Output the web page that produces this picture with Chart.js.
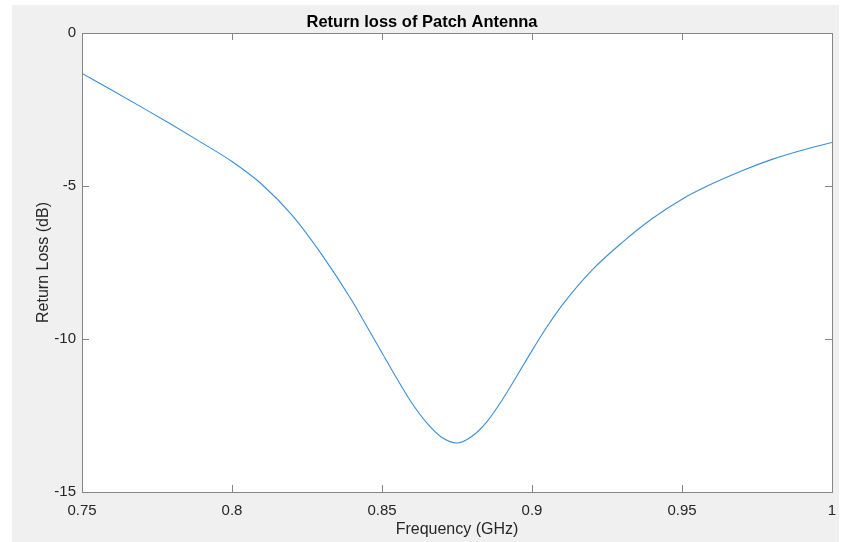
<!DOCTYPE html>
<html>
<head>
<meta charset="utf-8">
<title>Return loss of Patch Antenna</title>
<script src="https://cdn.jsdelivr.net/npm/chart.js@4.4.0/dist/chart.umd.min.js"></script>
<style>
    html, body { margin: 0; padding: 0; background: #ffffff; }
    #wrap { position: absolute; left: 12px; top: 5px; width: 827px; height: 537px; background: #f0f0f0; }
</style>
</head>
<body>
<div id="wrap"><canvas id="rlChart" width="827" height="537"></canvas></div>
<script>
// Données
const freq = [0.75, 0.76, 0.77, 0.78, 0.79, 0.80, 0.81, 0.82, 0.83, 0.84, 0.845, 0.85, 0.855, 0.86,
    0.865, 0.87, 0.875, 0.88, 0.885, 0.89, 0.895, 0.90, 0.905, 0.91, 0.92, 0.93, 0.94, 0.95,
    0.96, 0.97, 0.98, 0.99, 1.00];
const returnLoss = [-1.32, -1.87, -2.43, -3.0, -3.59, -4.2, -4.95, -5.95, -7.25, -8.75, -9.6, -10.45, -11.3, -12.1,
    -12.75, -13.22, -13.4, -13.18, -12.7, -12.0, -11.2, -10.38, -9.6, -8.9, -7.75, -6.85, -6.07, -5.43,
    -4.93, -4.5, -4.13, -3.83, -3.58];
const xTicks = [0.75, 0.8, 0.85, 0.9, 0.95, 1];
const xTickLabels = ['0.75', '0.8', '0.85', '0.9', '0.95', '1'];
const yTicks = [-15, -10, -5, 0];
const yTickLabels = ['-15', '-10', '-5', '0'];

const textColor = '#262626';
const axisColor = '#858585';
const fontFamily = 'Arial, "Liberation Sans", Helvetica, sans-serif';

// Fond blanc de la zone de tracé + cadre et graduations intérieures
const boxPlugin = {
    id: 'matlabBox',
    beforeDraw(chart) {
        const a = chart.chartArea;
        const ctx = chart.ctx;
        ctx.save();
        ctx.fillStyle = '#ffffff';
        ctx.fillRect(a.left, a.top, a.right - a.left, a.bottom - a.top);
        ctx.restore();
    },
    afterDraw(chart) {
        const a = chart.chartArea;
        const ctx = chart.ctx;
        const tl = 7;
        ctx.save();
        ctx.strokeStyle = axisColor;
        ctx.lineWidth = 1;
        ctx.strokeRect(Math.round(a.left) + 0.5, Math.round(a.top) + 0.5,
            Math.round(a.right - a.left), Math.round(a.bottom - a.top));
        ctx.beginPath();
        xTicks.forEach(v => {
            const px = Math.round(chart.scales.x.getPixelForValue(v)) + 0.5;
            ctx.moveTo(px, a.bottom); ctx.lineTo(px, a.bottom - tl);
            ctx.moveTo(px, a.top); ctx.lineTo(px, a.top + tl);
        });
        yTicks.forEach(v => {
            const py = Math.round(chart.scales.y.getPixelForValue(v)) + 0.5;
            ctx.moveTo(a.left, py); ctx.lineTo(a.left + tl, py);
            ctx.moveTo(a.right, py); ctx.lineTo(a.right - tl, py);
        });
        ctx.stroke();
        ctx.restore();
    }
};

const ctx = document.getElementById('rlChart');
new Chart(ctx, {
    type: 'line',
    data: {
        datasets: [{
            label: 'S11',
            data: freq.map((f, i) => ({ x: f, y: returnLoss[i] })),
            borderColor: '#3b8fd6',
            borderWidth: 1.1,
            pointRadius: 0,
            fill: false,
            cubicInterpolationMode: 'monotone'
        }]
    },
    plugins: [boxPlugin],
    options: {
        responsive: false,
        animation: false,
        layout: { padding: { left: 0, right: 7, top: 0, bottom: 0 } },
        plugins: {
            legend: { display: false },
            tooltip: { enabled: false },
            title: {
                display: true,
                text: 'Return loss of Patch Antenna',
                color: '#000000',
                font: { family: fontFamily, size: 16.5, weight: 'bold' },
                padding: { top: 7.8, bottom: 0.4 }
            }
        },
        scales: {
            x: {
                type: 'linear',
                min: 0.75,
                max: 1,
                grid: { display: false, drawTicks: false, tickLength: 0 },
                border: { display: false },
                afterBuildTicks: scale => { scale.ticks = xTicks.map(v => ({ value: v })); },
                afterFit: scale => {
                    scale.height = 50;
                    scale.paddingLeft = 0;
                    scale.paddingRight = 0;
                },
                ticks: {
                    padding: 10,
                    color: textColor,
                    maxRotation: 0,
                    autoSkip: false,
                    font: { family: fontFamily, size: 15 },
                    callback: (value, i) => xTickLabels[i]
                },
                title: {
                    display: true,
                    text: 'Frequency (GHz)',
                    color: textColor,
                    font: { family: fontFamily, size: 16 },
                    padding: { top: 0, bottom: 3 }
                }
            },
            y: {
                type: 'linear',
                min: -15,
                max: 0,
                grid: { display: false, drawTicks: false, tickLength: 0 },
                border: { display: false },
                afterBuildTicks: scale => { scale.ticks = yTicks.map(v => ({ value: v })); },
                afterFit: scale => {
                    scale.width = 70;
                    scale.paddingTop = 0;
                    scale.paddingBottom = 0;
                },
                ticks: {
                    padding: 6,
                    color: textColor,
                    autoSkip: false,
                    font: { family: fontFamily, size: 15 },
                    callback: (value, i) => yTickLabels[i]
                },
                title: {
                    display: true,
                    text: 'Return Loss (dB)',
                    color: textColor,
                    font: { family: fontFamily, size: 16 },
                    padding: { top: 22, bottom: 0 }
                }
            }
        }
    }
});
</script>
</body>
</html>
